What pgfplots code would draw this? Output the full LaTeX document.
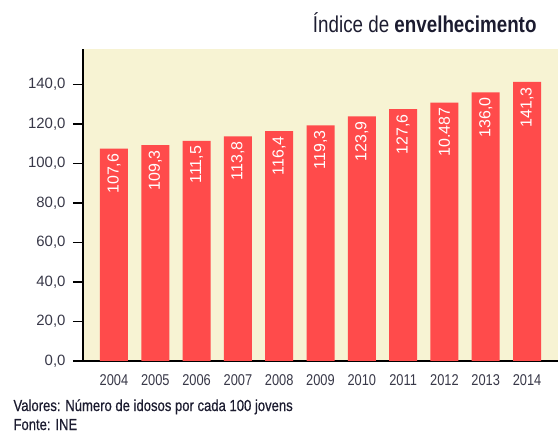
\documentclass[border=0pt]{standalone}
\usepackage{fontspec}
\setmainfont{Liberation Sans}
\newfontfamily\narrow[FakeStretch=0.82]{Liberation Sans}
\newfontfamily\narrowmed[FakeStretch=0.82, FakeBold=0.6]{Liberation Sans}
\usepackage{pgfplots}
\pgfplotsset{compat=1.18}
\definecolor{barred}{HTML}{FF4B4B}
\definecolor{cream}{HTML}{F7F3D3}
\definecolor{navy}{HTML}{1C1C30}
\definecolor{tickgray}{HTML}{383848}
\begin{document}
\begin{tikzpicture}
\useasboundingbox (0,0) rectangle (560bp,440bp);
\begin{axis}[
  at={(83bp,79bp)}, anchor=south west,
  scale only axis, width=475bp, height=312bp,
  xmin=-0.75, xmax=10.75, ymin=0, ymax=158,
  axis background/.style={fill=cream},
  axis x line=bottom, axis y line=left,
  axis line style={-, black, line width=1.3pt},
  ytick={0,20,...,140},
  xtick={0,...,10},
  xticklabels={2004,2005,2006,2007,2008,2009,2010,2011,2012,2013,2014},
  /pgf/number format/fixed,
  /pgf/number format/fixed zerofill,
  /pgf/number format/precision=1,
  /pgf/number format/use comma,
  /pgf/number format/1000 sep={},
  /pgf/number format/assume math mode=true,
  yticklabel style={font=\fontsize{15}{15}\selectfont, text=tickgray, xshift=-4bp},
  xticklabel style={font=\narrow\fontsize{15.7}{16}\selectfont, text=tickgray},
  tick align=outside, major tick length=10bp,
  x tick style={draw=none},
  y tick style={black, line width=1.3pt},
  ybar, bar width=28bp,
  nodes near coords, point meta=explicit symbolic,
  every node near coord/.style={rotate=90, anchor=east, font=\fontsize{16}{16}\selectfont, text=white, inner sep=5bp},
]
\addplot[fill=barred, draw=none] table[x=x, y=y, meta=lab] {
x y lab
0 107.6 107,6
1 109.3 109,3
2 111.5 111,5
3 113.8 113,8
4 116.4 116,4
5 119.3 119,3
6 123.9 123,9
7 127.6 127,6
8 130.8 10.487
9 136.0 136,0
10 141.3 141,3
};
\end{axis}
\node[anchor=base east, text=navy, font=\narrow\fontsize{23}{23}\selectfont] at (540bp,407bp) {Índice de \textbf{envelhecimento}};
\node[anchor=base west, text=navy, font=\narrowmed\fontsize{16}{16}\selectfont] at (10bp,29bp) {Valores: Número de idosos por cada 100 jovens};
\node[anchor=base west, text=navy, font=\narrowmed\fontsize{16}{16}\selectfont] at (10bp,10bp) {Fonte: INE};
\end{tikzpicture}
\end{document}
